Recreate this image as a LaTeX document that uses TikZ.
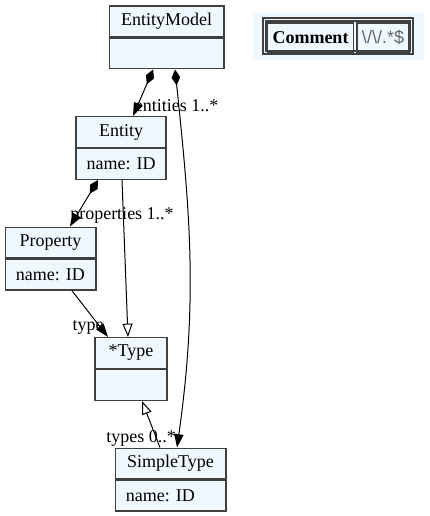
\documentclass[tikz,border=0pt]{standalone}
\usepackage{fontspec}
\setmainfont{Liberation Serif}
\newfontfamily\regexfont{Liberation Sans}
\usetikzlibrary{positioning,arrows.meta}
\definecolor{clsfill}{HTML}{F0F8FF}
\definecolor{clsline}{HTML}{404040}
\frenchspacing
\begin{document}
\begin{tikzpicture}[x=0.75pt,y=-0.75pt,
    font=\fontsize{13.5}{16}\selectfont,
    cls/.style={draw=clsline,fill=clsfill,line width=1pt,minimum height=23pt,inner ysep=0pt},
    attr/.style={cls,anchor=north,inner xsep=7pt,align=left},
    cell/.style={draw=clsline,line width=0.8pt,minimum height=21.75pt,inner sep=0pt},
    lbl/.style={inner sep=0pt},
    comp/.style={line width=0.75pt,{Diamond[length=12pt,width=6.5pt]}-{Triangle[length=10pt,width=7pt]}},
    ref/.style={line width=0.75pt,-{Triangle[length=10pt,width=7pt]}},
    inh/.style={line width=0.75pt,-{Triangle[open,length=10pt,width=7.5pt]}}]
    \useasboundingbox (0,0) rectangle (429,516);

    % classes
    \node[cls,minimum width=86pt] (em) at (166.5,21.5) {EntityModel};
    \node[attr,minimum width=86pt] (emb) at (em.south) {};
    \node[cls,minimum width=67.5pt] (ent) at (121,132) {Entity};
    \node[attr,text width=53.5pt] (entb) at (ent.south) {\hspace*{1pt}name: ID};
    \node[cls,minimum width=68pt] (pr) at (50.5,242.5) {Property};
    \node[attr,text width=54pt] (prb) at (pr.south) {\hspace*{1pt}name: ID};
    \node[cls,minimum width=54pt] (ty) at (131,353) {*Type};
    \node[attr,minimum width=54pt] (tyb) at (ty.south) {};
    \node[cls,minimum width=83pt] (st) at (170.5,463.5) {SimpleType};
    \node[attr,text width=69pt] (stb) at (st.south) {\hspace*{1pt}name: ID};

    % comment rule
    \node[fill=clsfill,minimum width=128.25pt,minimum height=35.25pt] (cmtbg) at (338.5,36.5) {};
    \draw[clsline,line width=0.8pt] (263,18) rectangle (413,54);
    \draw[clsline,line width=0.8pt] (266,21) rectangle (410,51);
    \node[cell,minimum width=65pt] (cmt) at (310.5,37.5) {\textbf{Comment}};
    \node[cell,minimum width=39pt] (cmtre) at (383,37.5) {\regexfont\color{black!60}\textbackslash/\textbackslash/.*\$};

    % labels
    \node[lbl] (lent) at (176.5,106) {entities 1..*};
    \node[lbl] (lprop) at (122,215) {properties 1..*};
    \node[lbl] (ltype) at (88,327) {type};
    \node[lbl] (ltypes) at (141,438) {types 0..*};

    % edges
    \draw[comp] ([xshift=-10pt]emb.south) -- ([xshift=9pt]ent.north);
    \draw[comp] ([xshift=6.4pt]emb.south) to[out=-84,in=82] ([xshift=4.9pt]st.north);
    \draw[comp] ([xshift=-17.25pt]entb.south) -- ([xshift=14.6pt]pr.north);
    \draw[inh] ([xshift=0.75pt]entb.south) -- ([xshift=-2.25pt]ty.north);
    \draw[ref] ([xshift=16pt]prb.south) -- ([xshift=-17.25pt]ty.north);
    \draw[inh] ([xshift=-7.9pt]st.north) -- ([xshift=8.25pt]tyb.south);
\end{tikzpicture}
\end{document}
